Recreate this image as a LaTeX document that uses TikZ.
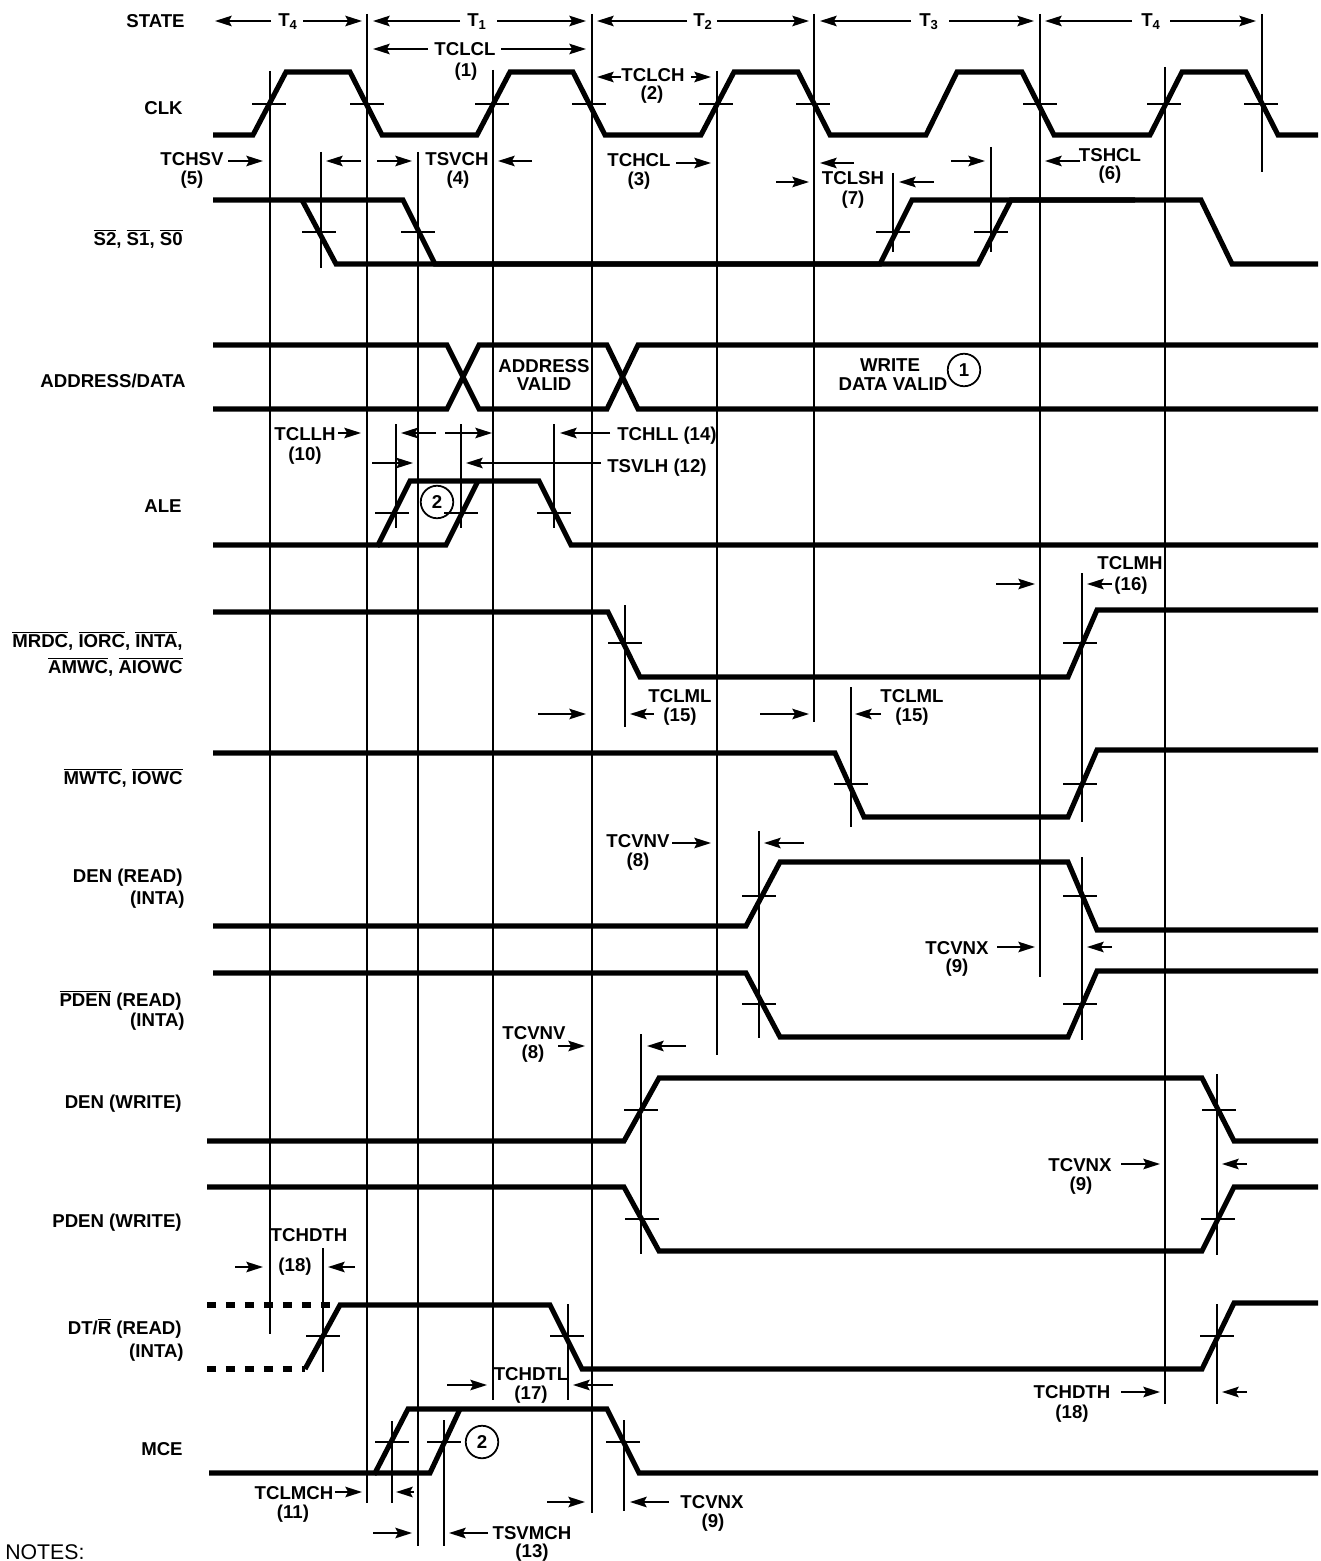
\documentclass[tikz,border=0pt]{standalone}
\usepackage{fontspec}
\setmainfont{Liberation Sans}
\usetikzlibrary{arrows.meta}

\newcommand{\ovl}[1]{$\overline{\mbox{#1}}$}

\tikzset{
    sig/.style={line width=2.9pt},
    dotsig/.style={line width=2.9pt, dash pattern=on 5.2pt off 5.6pt},
    guide/.style={line width=1pt},
    dim/.style={line width=1pt, -{Stealth[length=9.5pt, width=6pt, inset=1.6pt]}},
    lbl/.style={font=\fontsize{10.6}{12}\bfseries\selectfont, inner sep=0, text height=7.45pt, text depth=0pt},
    sigl/.style={lbl, anchor=east},
    numc/.style={lbl, draw, circle, line width=1pt, minimum size=18.5pt, text height=7.45pt},
}

\begin{document}
\begin{tikzpicture}[x=.02cm, y=-.02cm]

\useasboundingbox (0,0) rectangle (1320,1561);

% long vertical guides
\draw[guide] (270,71) -- (270,1334);
\draw[guide] (367,14) -- (367,1503);
\draw[guide] (418,152) -- (418,1546);
\draw[guide] (493,70) -- (493,1400);
\draw[guide] (592,14) -- (592,1513);
\draw[guide] (717,71) -- (717,1055);
\draw[guide] (814,14) -- (814,722);
\draw[guide] (1040,14) -- (1040,977);
\draw[guide] (1165,67) -- (1165,1404);
\draw[guide] (1262,14) -- (1262,172);

% short vertical guides
\draw[guide] (321,152) -- (321,268);
\draw[guide] (893,173) -- (893,252);
\draw[guide] (991,147) -- (991,252);
\draw[guide] (396,424) -- (396,528);
\draw[guide] (461,424) -- (461,528);
\draw[guide] (554,424) -- (554,528);
\draw[guide] (625,605) -- (625,727);
\draw[guide] (1082,573) -- (1082,822);
\draw[guide] (851,687) -- (851,827);
\draw[guide] (759,831) -- (759,1038);
\draw[guide] (1082,857) -- (1082,1040);
\draw[guide] (641,1034) -- (641,1254);
\draw[guide] (1217,1074) -- (1217,1255);
\draw[guide] (323,1248) -- (323,1372);
\draw[guide] (568,1304) -- (568,1400);
\draw[guide] (1217,1304) -- (1217,1404);
\draw[guide] (392,1421) -- (392,1503);
\draw[guide] (444,1420) -- (444,1546);
\draw[guide] (624,1420) -- (624,1511);

% crossing marks on the edges
\foreach \x in {252,350,475,572,699,796,1023,1147,1244} \draw[guide] (\x,104) -- ++(34,0);
\foreach \x in {302,401,876,974} \draw[guide] (\x,232) -- ++(34,0);
\foreach \x in {375,444,537} \draw[guide] (\x,513) -- ++(34,0);
\foreach \x in {608,1063} \draw[guide] (\x,643) -- ++(34,0);
\foreach \x in {834,1063} \draw[guide] (\x,784) -- ++(34,0);
\foreach \x in {742,1063} \draw[guide] (\x,896) -- ++(34,0);
\foreach \x in {742,1063} \draw[guide] (\x,1004) -- ++(34,0);
\foreach \x in {624,1202} \draw[guide] (\x,1110) -- ++(34,0);
\foreach \x in {625,1201} \draw[guide] (\x,1219) -- ++(34,0);
\foreach \x in {306,550,1200} \draw[guide] (\x,1336) -- ++(34,0);
\foreach \x in {375,427,606} \draw[guide] (\x,1442) -- ++(34,0);

% signals
\draw[sig] (213,135) -- (253,135) -- (286,72) -- (350,72) -- (382,135) -- (477,135) -- (510,72) -- (573,72) -- (605,135) -- (701,135) -- (734,72) -- (798,72) -- (830,135) -- (926,135) -- (957,72) -- (1022,72) -- (1054,135) -- (1150,135) -- (1182,72) -- (1246,72) -- (1278,135) -- (1318,135);

\draw[sig] (213,200) -- (403,200) -- (435,264) -- (880,264) -- (912,200) -- (1201,200) -- (1232,264) -- (1318,264);
\draw[sig] (302,200) -- (336,264) -- (978,264) -- (1011,200) -- (1135,200);

\draw[sig] (213,345) -- (447,345) -- (479,409) -- (607,409) -- (638,345) -- (1318,345);
\draw[sig] (213,409) -- (447,409) -- (479,345) -- (607,345) -- (638,409) -- (1318,409);

\draw[sig] (213,545) -- (378,545) -- (410,481) -- (539,481) -- (571,545) -- (1318,545);
\draw[sig] (378,545) -- (446,545) -- (478,481);

\draw[sig] (213,612) -- (608,612) -- (640,677) -- (1068,677) -- (1097,610) -- (1318,610);
\draw[sig] (213,753) -- (835,753) -- (864,817) -- (1068,817) -- (1097,750) -- (1318,750);
\draw[sig] (213,926) -- (746,926) -- (780,862) -- (1068,862) -- (1097,930) -- (1318,930);
\draw[sig] (213,973) -- (746,973) -- (780,1037) -- (1068,1037) -- (1097,971) -- (1318,971);
\draw[sig] (207,1141) -- (624,1141) -- (659,1078) -- (1202,1078) -- (1234,1141) -- (1318,1141);
\draw[sig] (207,1187) -- (624,1187) -- (659,1251) -- (1202,1251) -- (1234,1187) -- (1318,1187);

\draw[dotsig] (207,1305) -- (331,1305);
\draw[dotsig] (207,1369) -- (305,1369);
\draw[sig] (305,1369) -- (340,1305) -- (550,1305) -- (582,1369) -- (1202,1369) -- (1234,1303) -- (1318,1303);

\draw[sig] (209,1473) -- (375,1473) -- (408,1409) -- (607,1409) -- (639,1473) -- (1318,1473);
\draw[sig] (375,1473) -- (430,1473) -- (460,1409);

% signal names
\node[sigl] (state) at (185,21) {STATE};
\node[sigl] (clk) at (183,108) {CLK};
\node[sigl] (status) at (183,239) {\ovl{S2}, \ovl{S1}, \ovl{S0}};
\node[sigl] (addr) at (186,381) {ADDRESS/DATA};
\node[sigl] (ale) at (182,506) {ALE};
\node[sigl] (mrdc) at (183,641) {\ovl{MRDC}, \ovl{IORC}, \ovl{INTA},};
\node[sigl] (amwc) at (183,667) {\ovl{AMWC}, \ovl{AIOWC}};
\node[sigl] (mwtc) at (183,778) {\ovl{MWTC}, \ovl{IOWC}};
\node[sigl] (denr) at (183,876) {DEN (READ)};
\node[sigl] (denri) at (185,898) {(INTA)};
\node[sigl] (pdenr) at (182,1000) {\ovl{PDEN} (READ)};
\node[sigl] (pdenri) at (185,1020) {(INTA)};
\node[sigl] (denw) at (182,1102) {DEN (WRITE)};
\node[sigl] (pdenw) at (182,1221) {PDEN (WRITE)};
\node[sigl] (dtr) at (182,1328) {DT/\ovl{R} (READ)};
\node[sigl] (dtri) at (184,1351) {(INTA)};
\node[sigl] (mce) at (183,1449) {MCE};

% state row
\node[lbl] (tfoura) at (288,20) {T\textsubscript{4}};
\node[lbl] (tone) at (477,20) {T\textsubscript{1}};
\node[lbl] (ttwo) at (703,20) {T\textsubscript{2}};
\node[lbl] (tthree) at (929,20) {T\textsubscript{3}};
\node[lbl] (tfourb) at (1151,20) {T\textsubscript{4}};
\draw[dim] (271,21) -- (215,21);
\draw[dim] (303,21) -- (362,21);
\draw[dim] (460,21) -- (373,21);
\draw[dim] (497,21) -- (586,21);
\draw[dim] (687,21) -- (597,21);
\draw[dim] (717,21) -- (809,21);
\draw[dim] (911,21) -- (820,21);
\draw[dim] (949,21) -- (1034,21);
\draw[dim] (1132,21) -- (1045,21);
\draw[dim] (1170,21) -- (1256,21);

% clock timing
\node[lbl] (tclcl) at (465,49) {TCLCL};
\node[lbl] (tclcln) at (466,70) {(1)};
\draw[dim] (428,49) -- (373,49);
\draw[dim] (501,49) -- (586,49);

\node[lbl] (tclch) at (653,75) {TCLCH};
\node[lbl] (tclchn) at (652,93) {(2)};
\draw[dim] (621,77) -- (597,77);
\draw[dim] (691,77) -- (711,77);

\node[lbl] (tchsv) at (192,159) {TCHSV};
\node[lbl] (tchsvn) at (192,178) {(5)};
\draw[dim] (228,161) -- (263,161);
\draw[dim] (361,161) -- (326,161);

\node[lbl] (tsvch) at (457,159) {TSVCH};
\node[lbl] (tsvchn) at (458,178) {(4)};
\draw[dim] (377,161) -- (412,161);
\draw[dim] (532,161) -- (498,161);

\node[lbl] (tchcl) at (639,160) {TCHCL};
\node[lbl] (tchcln) at (639,179) {(3)};
\draw[dim] (676,163) -- (711,163);
\draw[dim] (854,163) -- (820,163);

\node[lbl] (tclsh) at (853,178) {TCLSH};
\node[lbl] (tclshn) at (853,198) {(7)};
\draw[dim] (776,182) -- (809,182);
\draw[dim] (934,182) -- (899,182);

\node[lbl] (tshcl) at (1110,155) {TSHCL};
\node[lbl] (tshcln) at (1110,173) {(6)};
\draw[dim] (951,161) -- (985,161);
\draw[dim] (1080,161) -- (1045,161);

% bus labels
\node[lbl] (addrv) at (544,366) {ADDRESS};
\node[lbl] (addrvb) at (544,384) {VALID};
\node[lbl] (wrd) at (890,365) {WRITE};
\node[lbl] (wrdb) at (893,384) {DATA VALID};
\node[numc] (noteone) at (964,370) {1};

% ALE timing
\node[lbl] (tcllh) at (305,434) {TCLLH};
\node[lbl] (tcllhn) at (305,454) {(10)};
\draw[dim] (338,433) -- (361,433);
\draw[dim] (436,433) -- (401,433);
\draw[dim] (445,433) -- (492,433);
\draw[dim] (610,433) -- (560,433);
\node[lbl] (tchll) at (667,434) {TCHLL (14)};
\draw[dim] (372,463) -- (413,463);
\draw[dim] (601,463) -- (466,463);
\node[lbl] (tsvlh) at (657,466) {TSVLH (12)};
\node[numc] (notetwoa) at (437,502) {2};

% command timing
\node[lbl] (tclmh) at (1130,563) {TCLMH};
\node[lbl] (tclmhn) at (1131,584) {(16)};
\draw[dim] (996,584) -- (1035,584);
\draw[dim] (1112,584) -- (1087,584);

\node[lbl] (tclmla) at (680,696) {TCLML};
\node[lbl] (tclmlan) at (680,715) {(15)};
\draw[dim] (538,714) -- (586,714);
\draw[dim] (654,714) -- (630,714);

\node[lbl] (tclmlb) at (912,696) {TCLML};
\node[lbl] (tclmlbn) at (912,715) {(15)};
\draw[dim] (760,714) -- (809,714);
\draw[dim] (881,714) -- (855,714);

% enable timing
\node[lbl] (tcvnva) at (638,841) {TCVNV};
\node[lbl] (tcvnvan) at (638,860) {(8)};
\draw[dim] (672,843) -- (711,843);
\draw[dim] (804,843) -- (764,843);

\node[lbl] (tcvnxa) at (957,948) {TCVNX};
\node[lbl] (tcvnxan) at (957,966) {(9)};
\draw[dim] (997,947) -- (1035,947);
\draw[dim] (1112,947) -- (1087,947);

\node[lbl] (tcvnvb) at (534,1033) {TCVNV};
\node[lbl] (tcvnvbn) at (533,1052) {(8)};
\draw[dim] (558,1046) -- (585,1046);
\draw[dim] (686,1046) -- (647,1046);

\node[lbl] (tcvnxb) at (1080,1165) {TCVNX};
\node[lbl] (tcvnxbn) at (1081,1184) {(9)};
\draw[dim] (1121,1164) -- (1160,1164);
\draw[dim] (1247,1164) -- (1222,1164);

% direction timing
\node[lbl] (tchdtha) at (309,1235) {TCHDTH};
\node[lbl] (tchdthan) at (295,1265) {(18)};
\draw[dim] (235,1267) -- (263,1267);
\draw[dim] (355,1267) -- (328,1267);

\node[lbl] (tchdtl) at (531,1374) {TCHDTL};
\node[lbl] (tchdtln) at (531,1393) {(17)};
\draw[dim] (447,1385) -- (487,1385);
\draw[dim] (613,1385) -- (573,1385);

\node[lbl] (tchdthb) at (1072,1392) {TCHDTH};
\node[lbl] (tchdthbn) at (1072,1412) {(18)};
\draw[dim] (1121,1392) -- (1160,1392);
\draw[dim] (1247,1392) -- (1222,1392);

% MCE timing
\node[numc] (notetwob) at (482,1442) {2};

\node[lbl] (tclmch) at (294,1493) {TCLMCH};
\node[lbl] (tclmchn) at (293,1512) {(11)};
\draw[dim] (335,1492) -- (362,1492);
\draw[dim] (414,1492) -- (396,1492);

\node[lbl] (tcvnxc) at (712,1502) {TCVNX};
\node[lbl] (tcvnxcn) at (713,1521) {(9)};
\draw[dim] (547,1502) -- (585,1502);
\draw[dim] (669,1502) -- (630,1502);

\node[lbl] (tsvmch) at (532,1533) {TSVMCH};
\node[lbl] (tsvmchn) at (532,1551) {(13)};
\draw[dim] (373,1533) -- (412,1533);
\draw[dim] (488,1533) -- (449,1533);

\node[anchor=west, inner sep=0, font=\fontsize{12.1}{13}\selectfont] (notes) at (5,1552) {NOTES:};

\end{tikzpicture}
\end{document}
